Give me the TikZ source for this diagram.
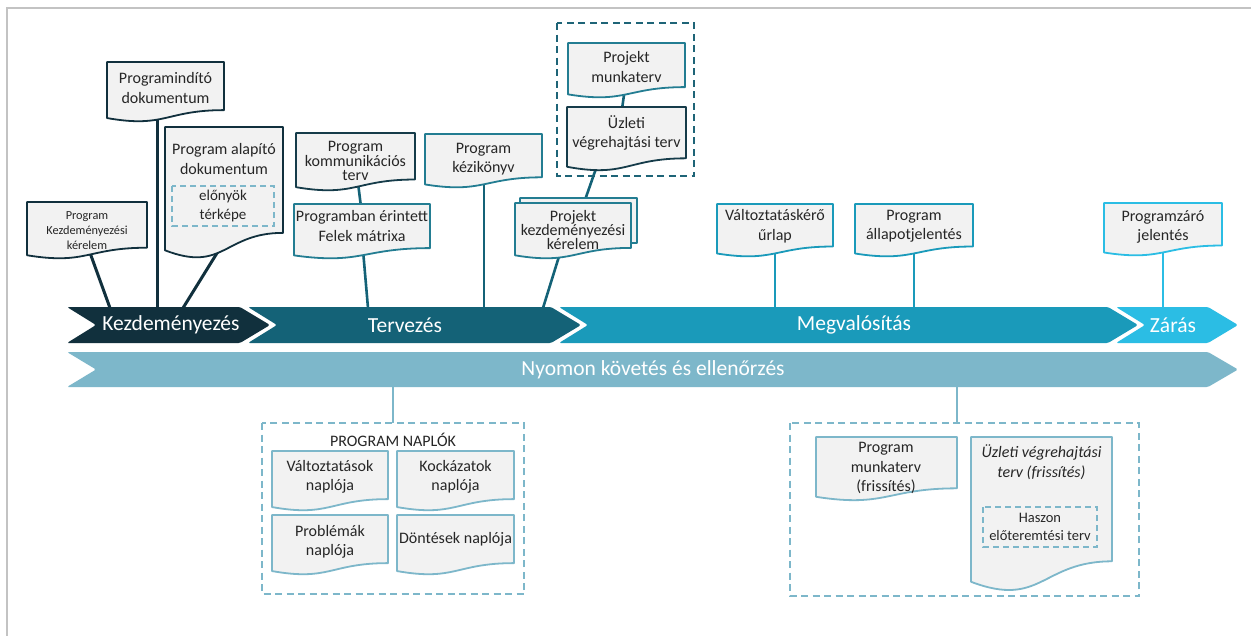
\documentclass[tikz,border=0pt]{standalone}
\usepackage{fontspec}
\setmainfont{Carlito}
\usetikzlibrary{calc}

\definecolor{kezc}{HTML}{11303D}
\definecolor{tervc}{HTML}{146277}
\definecolor{megc}{HTML}{1A9ABA}
\definecolor{zarc}{HTML}{2BBDE4}
\definecolor{trackc}{HTML}{7DB7CA}
\definecolor{docfill}{HTML}{F2F2F2}
\definecolor{txt}{HTML}{262626}
\definecolor{framec}{HTML}{C3C3C3}
\definecolor{darkedge}{HTML}{163C4A}
\definecolor{tealedge}{HTML}{237D92}
\definecolor{groupc}{HTML}{1E6477}

\tikzset{
  docedge/.style={draw=#1, fill=docfill, line width=1.8pt, line join=round},
  doctext/.style={text=txt, align=center, inner sep=0pt, font=\fontsize{16}{19.5}\selectfont},
  phasetext/.style={text=white, inner sep=0pt, font=\fontsize{21.5}{24}\selectfont},
  conn/.style={draw=#1, line width=2.6pt},
  grpbox/.style={draw=#1, line width=1.8pt, dash pattern=on 7pt off 4.5pt},
}

% document symbol: left, top, right, height, edge colour
\newcommand{\docshape}[5]{%
  \draw[docedge=#5] (#1,#2) -- (#3,#2) -- (#3,{#2+0.802*#4})
    .. controls ({(#1+#3)/2},{#2+0.802*#4}) and ({(#1+#3)/2},{#2+1.107*#4})
    .. (#1,{#2+0.934*#4}) -- cycle;}

% phase arrow: left, right, top, bottom, colour
\newcommand{\chevron}[5]{%
  \fill[#5, rounded corners=1.5pt] (#1,#3) -- (#2,#3) -- ({#2+30},{(#3+#4)/2}) -- (#2,#4)
    -- (#1,#4) -- ({#1+29},{(#3+#4)/2}) -- cycle;}

\begin{document}
\begin{tikzpicture}[x=1pt,y=-1pt]
\useasboundingbox (0,0) rectangle (1251,635);
\fill[white] (0,0) rectangle (1251,635);
\draw[framec, line width=2pt] (6.5,636) -- (6.5,7.5) -- (1252,7.5);

% ---------- connector end points ----------
\coordinate (pkkA) at (89,250);   \coordinate (pkkB) at (110,308);
\coordinate (pidA) at (157,112);  \coordinate (pidB) at (157,308);
\coordinate (padA) at (222,245);  \coordinate (padB) at (183,308);
\coordinate (pktA) at (358,183);  \coordinate (pktB) at (361,207);
\coordinate (pfmA) at (363,250);  \coordinate (pfmB) at (368,308);
\coordinate (pkvA) at (484,178);  \coordinate (pkvB) at (484,308);
\coordinate (prkA) at (561,250);  \coordinate (prkB) at (543,308);
\coordinate (pmtA) at (625,88);   \coordinate (pmtB) at (622,109);
\coordinate (uvtA) at (599,160);  \coordinate (uvtB) at (585,200);
\coordinate (vkuA) at (775,245);  \coordinate (vkuB) at (775,308);
\coordinate (paA)  at (914,245);  \coordinate (paB)  at (914,308);
\coordinate (pzjA) at (1163,245); \coordinate (pzjB) at (1163,308);
\coordinate (trkA) at (393,386);  \coordinate (nplB) at (393,423);
\coordinate (trkC) at (957,386);  \coordinate (frsB) at (957,423);

\draw[conn=kezc, line width=3pt] (pkkA) -- (pkkB);
\draw[conn=kezc, line width=3pt] (pidA) -- (pidB);
\draw[conn=kezc, line width=3pt] (padA) -- (padB);
\draw[conn=tervc] (pktA) -- (pktB);
\draw[conn=tervc] (pfmA) -- (pfmB);
\draw[conn=tervc] (pkvA) -- (pkvB);
\draw[conn=tervc] (prkA) -- (prkB);
\draw[conn=tervc] (pmtA) -- (pmtB);
\draw[conn=tervc] (uvtA) -- (uvtB);
\draw[conn=megc] (vkuA) -- (vkuB);
\draw[conn=megc] (paA) -- (paB);
\draw[conn=zarc] (pzjA) -- (pzjB);
\draw[conn=trackc] (trkA) -- (nplB);
\draw[conn=trackc] (trkC) -- (frsB);

% ---------- phase arrows ----------
\chevron{67}{240}{307}{343}{kezc}
\chevron{248}{551}{307}{343}{tervc}
\chevron{559}{1108}{307}{343}{megc}
\chevron{1116}{1208}{307}{343}{zarc}
\chevron{67}{1208}{352}{387}{trackc}

\node[phasetext] (kez)  at (171,325)   {Kezdeményezés};
\node[phasetext] (terv) at (405,325)   {Tervezés};
\node[phasetext] (megv) at (854,325)   {Megvalósítás};
\node[phasetext] (zar)  at (1173,325)  {Zárás};
\node[phasetext] (trk)  at (653,369.5) {Nyomon követés és ellenőrzés};

% ---------- initiation documents ----------
\docshape{27}{202}{147}{57}{kezc}
\node[doctext, font=\fontsize{12.3}{15}\selectfont] (pkk) at (87,231) {Program\\Kezdeményezési\\kérelem};

\docshape{107}{62}{224}{60}{kezc}
\node[doctext] (pid) at (165.5,88) {Programindító\\dokumentum};

\docshape{165}{127}{283}{132}{kezc}
\node[doctext] (pad) at (224,159) {Program alapító\\dokumentum};
\draw[trackc, line width=1.5pt, dash pattern=on 6pt off 4pt] (172,186) rectangle (274,226);
\node[doctext, font=\fontsize{15}{18.5}\selectfont] (ent) at (223,206) {előnyök\\térképe};

% ---------- planning documents ----------
\docshape{296}{133}{415}{58}{darkedge}
\node[doctext, font=\fontsize{16}{14.5}\selectfont] (pkt) at (355.5,161) {Program\\kommunikációs\\terv};

\docshape{294}{204}{430}{55}{tealedge}
\node[doctext] (pfm) at (362,226) {Programban érintett\\Felek mátrixa};

\docshape{425}{134}{542}{54}{tealedge}
\node[doctext] (pkv) at (483.5,159) {Program\\kézikönyv};

\docshape{520}{198}{637}{56}{tealedge}
\docshape{515}{203}{631}{56}{tealedge}
\node[doctext, font=\fontsize{16}{14}\selectfont] (prk) at (573,230) {Projekt\\kezdeményezési\\kérelem};

\draw[grpbox=groupc] (557,23) rectangle (694,176);
\docshape{568}{43}{685}{55}{tealedge}
\node[doctext] (pmt) at (626.5,67) {Projekt\\munkaterv};
\docshape{567}{107}{686}{64}{darkedge}
\node[doctext] (uvt) at (626.5,133) {Üzleti\\végrehajtási terv};

% ---------- implementation and closing documents ----------
\docshape{717}{204}{833}{53}{megc}
\node[doctext] (vku) at (775,226) {Változtatáskérő\\űrlap};

\docshape{855}{204}{973}{53}{megc}
\node[doctext] (pa) at (914,226) {Program\\állapotjelentés};

\docshape{1104}{203}{1222}{53}{zarc}
\node[doctext] (pzj) at (1163,227) {Programzáró\\jelentés};

% ---------- monitoring: program logs ----------
\draw[grpbox=trackc] (262,423) rectangle (524,594);
\node[doctext] (npl) at (393,440) {PROGRAM NAPLÓK};
\docshape{272}{451}{388}{60}{trackc}
\node[doctext] (vn) at (330,477) {Változtatások\\naplója};
\docshape{397}{451}{514}{60}{trackc}
\node[doctext] (kn) at (455.5,477) {Kockázatok\\naplója};
\docshape{272}{515}{388}{60}{trackc}
\node[doctext] (pn) at (330,542) {Problémák\\naplója};
\docshape{397}{515}{514}{60}{trackc}
\node[doctext] (dn) at (455.5,539) {Döntések naplója};

% ---------- monitoring: updated plans ----------
\draw[grpbox=trackc] (790,423) rectangle (1139,596);
\docshape{816}{437}{957}{64}{trackc}
\node[doctext] (pmf) at (886,468) {Program\\munkaterv\\(frissítés)};
\docshape{971}{437}{1112}{155}{trackc}
\node[doctext, font=\fontsize{16}{19.5}\itshape] (uvf) at (1041.5,462) {Üzleti végrehajtási\\terv (frissítés)};
\draw[trackc, line width=1.5pt, dash pattern=on 6pt off 4pt] (983,507) rectangle (1097,547);
\node[doctext, font=\fontsize{14.5}{17.5}\selectfont] (het) at (1040,527) {Haszon\\előteremtési terv};

\end{tikzpicture}
\end{document}
